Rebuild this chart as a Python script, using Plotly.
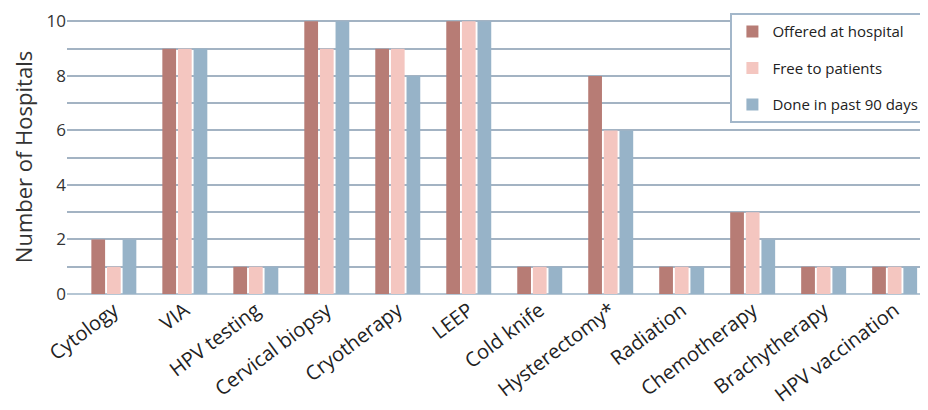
import plotly.graph_objects as go

categories = ["Cytology", "VIA", "HPV testing", "Cervical biopsy", "Cryotherapy", "LEEP",
              "Cold knife", "Hysterectomy*", "Radiation", "Chemotherapy", "Brachytherapy",
              "HPV vaccination"]
offered = [2, 9, 1, 10, 9, 10, 1, 8, 1, 3, 1, 1]
free = [1, 9, 1, 9, 9, 10, 1, 6, 1, 3, 1, 1]
done = [2, 9, 1, 10, 8, 10, 1, 6, 1, 2, 1, 1]

series = [
    ("Offered at hospital", offered, "#b77c75"),
    ("Free to patients", free, "#f4c6c0"),
    ("Done in past 90 days", done, "#97b3c8"),
]

fig = go.Figure()
for i, (name, vals, color) in enumerate(series):
    fig.add_trace(go.Bar(x=categories, y=vals, name=name, legendgroup=f"g{i}",
                         marker=dict(color=color, line=dict(width=0))))

grid = "#a3b3c3"
# page body has an 8px default margin, so the figure is sized 920x402 to fit the 928x410 window
fig.update_layout(
    width=920, height=402,
    margin=dict(l=59, r=0, t=12, b=116, autoexpand=False),
    paper_bgcolor="white", plot_bgcolor="white",
    barmode="group", bargap=0.34, bargroupgap=0.12,
    font=dict(family="Open Sans, Segoe UI, sans-serif", color="#333333"),
    xaxis=dict(tickangle=-37, tickfont=dict(size=20, color="#222222"), range=[-0.66, 11.47],
               showgrid=False, ticks="", showline=False, automargin=False),
    yaxis=dict(range=[0, 10.05], dtick=2, tick0=0, showgrid=True, gridcolor=grid, gridwidth=2,
               minor=dict(dtick=1, showgrid=True, gridcolor=grid, gridwidth=2),
               tickfont=dict(size=17, color="#333333"), ticks="", zeroline=True,
               zerolinecolor="#b5c6d4", zerolinewidth=2, automargin=False,
               title=dict(text="Number of Hospitals", font=dict(size=22, color="#333333"), standoff=8)),
    legend=dict(x=0.997, y=1.025, xanchor="right", yanchor="top", bgcolor="white",
                bordercolor="#a3b7ca", borderwidth=2, font=dict(size=15, color="#222222"),
                itemwidth=30, tracegroupgap=14, traceorder="grouped"),
)

fig.write_html("out.html")
